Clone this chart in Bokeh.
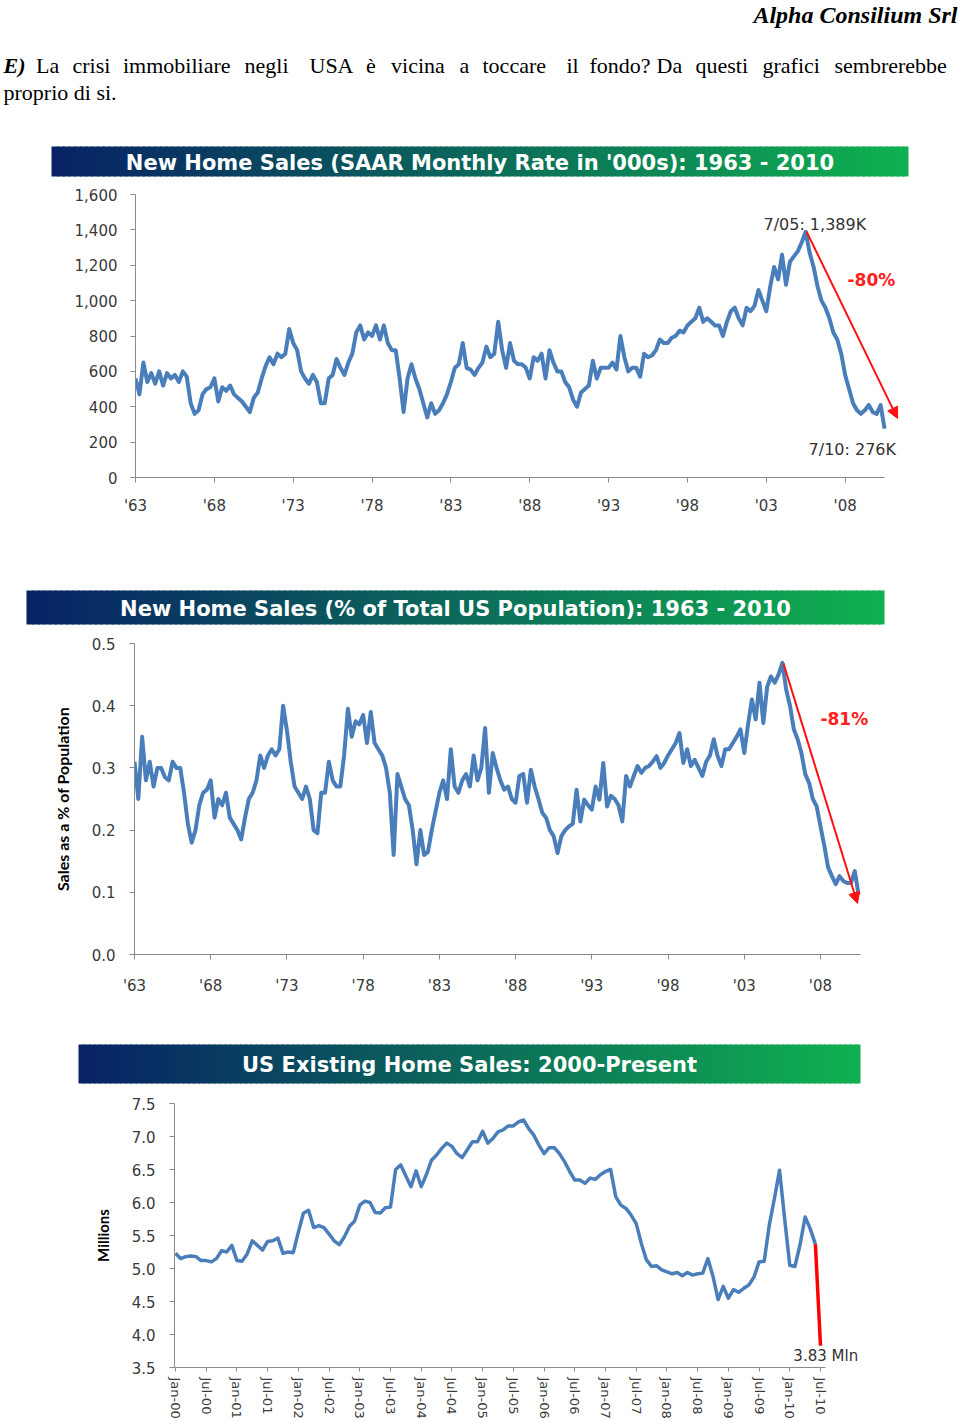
import numpy as np
from bokeh.plotting import figure
from bokeh.models import Range1d, FixedTicker, NumeralTickFormatter, Arrow, NormalHead
from bokeh.layouts import column
from bokeh.core.properties import value
from bokeh.embed import file_html
from bokeh.resources import INLINE

# ---------------- DATA ----------------
# Panel 1: New home sales, SAAR, thousands (quarterly readings 1963Q1 .. 2010Q3)
nhs_start_year = 1963
nhs_thousands = [
    560, 470, 650, 540,   # 1963
    590, 530, 600, 520,   # 1964
    590, 560, 580, 540,   # 1965
    600, 570, 420, 360,   # 1966
    380, 470, 500, 510,   # 1967
    560, 430, 510, 490,   # 1968
    520, 470, 450, 430,   # 1969
    400, 370, 450, 480,   # 1970
    560, 630, 680, 640,   # 1971
    700, 680, 700, 840,   # 1972
    760, 720, 600, 560,   # 1973
    530, 580, 540, 420,   # 1974
    420, 560, 580, 670,   # 1975
    620, 580, 650, 700,   # 1976
    820, 860, 780, 820,   # 1977
    800, 860, 780, 860,   # 1978
    760, 720, 720, 560,   # 1979
    370, 560, 640, 560,   # 1980
    500, 420, 340, 420,   # 1981
    360, 380, 420, 470,   # 1982
    540, 620, 640, 760,   # 1983
    620, 610, 580, 620,   # 1984
    650, 740, 680, 700,   # 1985
    880, 720, 620, 760,   # 1986
    660, 640, 640, 620,   # 1987
    560, 680, 660, 700,   # 1988
    560, 720, 650, 600,   # 1989
    600, 540, 510, 440,   # 1990
    400, 480, 500, 520,   # 1991
    660, 560, 620, 620,   # 1992
    620, 650, 610, 800,   # 1993
    680, 600, 620, 620,   # 1994
    570, 700, 680, 690,   # 1995
    720, 780, 760, 760,   # 1996
    790, 800, 830, 820,   # 1997
    860, 880, 900, 960,   # 1998
    880, 900, 880, 860,   # 1999
    860, 800, 880, 940,   # 2000
    960, 900, 860, 960,   # 2001
    940, 970, 1060, 1000, # 2002
    940, 1080, 1190, 1120,  # 2003
    1260, 1090, 1220, 1250, # 2004
    1280, 1330, 1389, 1270, # 2005
    1190, 1080, 1000, 960,  # 2006
    900, 820, 780, 700,   # 2007
    580, 500, 420, 380,   # 2008
    360, 380, 410, 370,   # 2009
    360, 410, 276,        # 2010
]

# Panel 2: New home sales as % of US population (same quarters)
nhs_pct_population = [
    0.31, 0.25, 0.35, 0.28,
    0.31, 0.27, 0.30, 0.30,
    0.285, 0.28, 0.31, 0.30,
    0.30, 0.26, 0.21, 0.18,
    0.20, 0.24, 0.26, 0.265,
    0.28, 0.22, 0.25, 0.24,
    0.26, 0.22, 0.21, 0.20,
    0.185, 0.22, 0.25, 0.26,
    0.28, 0.32, 0.30, 0.32,
    0.33, 0.32, 0.33, 0.40,
    0.36, 0.31, 0.27, 0.26,
    0.25, 0.27, 0.25, 0.20,
    0.195, 0.26, 0.26, 0.31,
    0.28, 0.27, 0.27, 0.32,
    0.395, 0.35, 0.375, 0.37,
    0.385, 0.34, 0.39, 0.34,
    0.33, 0.32, 0.30, 0.26,
    0.16, 0.29, 0.27, 0.25,
    0.24, 0.20, 0.145, 0.20,
    0.16, 0.165, 0.20, 0.23,
    0.26, 0.28, 0.25, 0.33,
    0.27, 0.26, 0.28, 0.29,
    0.27, 0.32, 0.28, 0.30,
    0.364, 0.26, 0.324, 0.30,
    0.28, 0.265, 0.27, 0.25,
    0.244, 0.287, 0.29, 0.244,
    0.297, 0.27, 0.25, 0.228,
    0.22, 0.20, 0.19, 0.163,
    0.19, 0.20, 0.206, 0.21,
    0.265, 0.214, 0.249, 0.24,
    0.233, 0.27, 0.249, 0.308,
    0.238, 0.255, 0.25, 0.24,
    0.214, 0.287, 0.27, 0.287,
    0.303, 0.292, 0.30, 0.303,
    0.31, 0.319, 0.30, 0.308,
    0.32, 0.33, 0.34, 0.356,
    0.308, 0.33, 0.303, 0.313,
    0.30, 0.287, 0.31, 0.32,
    0.346, 0.319, 0.303, 0.33,
    0.33, 0.34, 0.35, 0.362,
    0.324, 0.37, 0.41, 0.378,
    0.437, 0.372, 0.43, 0.447,
    0.437, 0.45, 0.469, 0.426,
    0.40, 0.362, 0.346, 0.324,
    0.29, 0.276, 0.25, 0.238,
    0.206, 0.175, 0.14, 0.126,
    0.113, 0.126, 0.118, 0.115,
    0.115, 0.134, 0.096,
]

year_ticks = [1963, 1968, 1973, 1978, 1983, 1988, 1993, 1998, 2003, 2008]
year_tick_labels = ["'63", "'68", "'73", "'78", "'83", "'88", "'93", "'98", "'03", "'08"]
p1_y_ticks = [0, 200, 400, 600, 800, 1000, 1200, 1400, 1600]
p2_y_ticks = [0.0, 0.1, 0.2, 0.3, 0.4, 0.5]

# Panel 3: US existing home sales, millions, monthly Jan-00 .. Jun-10, then Jul-10
ehs_millions = [
    5.23, 5.15, 5.18, 5.19, 5.18, 5.12, 5.12, 5.10, 5.15, 5.27, 5.25, 5.35,  # 2000
    5.12, 5.11, 5.22, 5.42, 5.35, 5.28, 5.41, 5.42, 5.46, 5.23, 5.25, 5.24,  # 2001
    5.55, 5.84, 5.88, 5.62, 5.65, 5.62, 5.52, 5.42, 5.36, 5.48, 5.64, 5.72,  # 2002
    5.96, 6.02, 6.00, 5.85, 5.84, 5.92, 5.93, 6.50, 6.57, 6.40, 6.24, 6.48,  # 2003
    6.24, 6.42, 6.64, 6.72, 6.82, 6.90, 6.85, 6.74, 6.68, 6.80, 6.92, 6.92,  # 2004
    7.08, 6.90, 6.97, 7.07, 7.10, 7.16, 7.16, 7.22, 7.25, 7.12, 7.02, 6.87,  # 2005
    6.74, 6.83, 6.83, 6.74, 6.62, 6.47, 6.34, 6.34, 6.29, 6.37, 6.35, 6.42,  # 2006
    6.47, 6.50, 6.09, 5.96, 5.91, 5.81, 5.68, 5.38, 5.13, 5.03, 5.04, 4.98,  # 2007
    4.95, 4.92, 4.94, 4.89, 4.94, 4.90, 4.92, 4.93, 5.15, 4.88, 4.53, 4.73,  # 2008
    4.55, 4.68, 4.64, 4.70, 4.75, 4.87, 5.10, 5.11, 5.66, 6.06, 6.49, 5.75,  # 2009
    5.05, 5.03, 5.36, 5.78, 5.60, 5.37,                                      # 2010
]
ehs_jul10 = 3.83
month_tick_labels = ["Jan-00", "Jul-00", "Jan-01", "Jul-01", "Jan-02", "Jul-02",
                     "Jan-03", "Jul-03", "Jan-04", "Jul-04", "Jan-05", "Jul-05",
                     "Jan-06", "Jul-06", "Jan-07", "Jul-07", "Jan-08", "Jul-08",
                     "Jan-09", "Jul-09", "Jan-10", "Jul-10"]
p3_y_ticks = [3.5, 4.0, 4.5, 5.0, 5.5, 6.0, 6.5, 7.0, 7.5]

# ---------------- STYLE ----------------
W = 960
BLUE = "#4a7ebb"
AXIS = "#8a8a8a"
TICK_TXT = "#3a3a3a"
TICK_FONT = "DejaVu Sans"
SERIF = "Liberation Serif"


def page_fig(top, bottom):
    p = figure(width=W, height=bottom - top, x_range=Range1d(0, W),
               y_range=Range1d(bottom, top), output_backend="svg",
               toolbar_location=None, x_axis_type=None, y_axis_type=None,
               min_border=0, frame_align=False)
    p.outline_line_color = None
    p.background_fill_color = "white"
    p.border_fill_color = "white"
    return p


def banner_fig(top, bottom, x0, x1, by0, by1, title, size="21px"):
    p = page_fig(top, bottom)
    n = 150
    edges = np.linspace(x0, x1, n + 1)
    c0 = np.array([8, 34, 102])
    c1 = np.array([16, 178, 80])
    t = (np.arange(n) + 0.5) / n
    cols = ["#%02x%02x%02x" % tuple(int(v) for v in (c0 + (c1 - c0) * tt)) for tt in t]
    rights = np.minimum(edges[1:] + 1.5, x1)
    p.quad(left=edges[:-1], right=rights, top=by0, bottom=by1,
           fill_color=cols, line_color=None)
    p.text(x=[(x0 + x1) / 2], y=[(by0 + by1) / 2 + 1], text=[title],
           text_align="center", text_baseline="middle", text_color="white",
           text_font=value("DejaVu Sans"), text_font_style="bold",
           text_font_size=size)
    return p


def style_axes(p):
    p.grid.visible = False
    p.outline_line_color = None
    for ax in p.axis:
        ax.axis_line_color = AXIS
        ax.major_tick_line_color = AXIS
        ax.minor_tick_line_color = None
        ax.major_tick_in = 0
        ax.major_tick_out = 5
        ax.major_label_text_font = TICK_FONT
        ax.major_label_text_font_size = "15px"
        ax.major_label_text_color = TICK_TXT


# ---------------- HEADER ----------------
hdr = page_fig(0, 137)
hdr.text(x=[957], y=[14], text=["Alpha Consilium Srl"], text_align="right",
         text_baseline="alphabetic", text_font=value(SERIF),
         text_font_style="bold italic", text_font_size="24px", text_color="black")
line1_words = ["La", "crisi", "immobiliare", "negli", "USA", "è", "vicina", "a",
               "toccare", "il", "fondo?", "Da", "questi", "grafici", "sembrerebbe"]
line1_x = [35.5, 72, 122.5, 244, 309, 365.5, 390.6, 459, 482, 566, 589, 656,
           695, 762, 834]
hdr.text(x=[3], y=[65], text=["E)"], text_baseline="alphabetic",
         text_font=value(SERIF), text_font_style="bold italic",
         text_font_size="22px", text_color="black")
hdr.text(x=line1_x, y=[65] * len(line1_words), text=line1_words,
         text_baseline="alphabetic", text_font=value(SERIF),
         text_font_size="22px", text_color="black")
hdr.text(x=[3], y=[92], text=["proprio di si."], text_baseline="alphabetic",
         text_font=value(SERIF), text_font_size="22px", text_color="black")

# ---------------- PANEL 1 ----------------
b1 = banner_fig(137, 182, 51, 908, 146, 176,
                "New Home Sales (SAAR Monthly Rate in '000s): 1963 - 2010")

q_years = [nhs_start_year + 0.25 * i for i in range(len(nhs_thousands))]
p1 = figure(width=W, height=358, x_range=Range1d(1963, 1963 + 770 / 15.77),
            y_range=Range1d(0, 1600), output_backend="svg", toolbar_location=None,
            min_border_left=135, min_border_right=55, min_border_top=12,
            min_border_bottom=63, frame_align=False)
p1.line(q_years, nhs_thousands, line_color=BLUE, line_width=4, line_join="round")
style_axes(p1)
p1.xaxis.ticker = FixedTicker(ticks=year_ticks)
p1.xaxis.major_label_overrides = dict(zip(year_ticks, year_tick_labels))
p1.xaxis.bounds = (1963, 2010.5)
p1.xaxis.major_label_standoff = 14
p1.yaxis.ticker = FixedTicker(ticks=p1_y_ticks)
p1.yaxis.formatter = NumeralTickFormatter(format="0,0")
p1.yaxis.bounds = (0, 1600)
p1.yaxis.major_label_standoff = 13
p1.text(x=[2002.82], y=[1430], text=["7/05: 1,389K"], text_baseline="middle",
        text_font=value(TICK_FONT), text_font_size="16px", text_color="#333333")
p1.text(x=[2005.68], y=[158], text=["7/10: 276K"], text_baseline="middle",
        text_font=value(TICK_FONT), text_font_size="16px", text_color="#333333")
p1.text(x=[2008.15], y=[1119], text=["-80%"], text_baseline="middle",
        text_font=value(TICK_FONT), text_font_style="bold", text_font_size="17px",
        text_color="#ff2020")
p1.add_layout(Arrow(end=NormalHead(size=11, fill_color="#ff1010", line_color="#ff1010"),
                    x_start=2005.55, y_start=1391, x_end=2011.32, y_end=334,
                    line_color="#ff1010", line_width=2))

# ---------------- PANEL 2 ----------------
b2 = banner_fig(540, 630, 26, 884, 590, 624,
                "New Home Sales (% of Total US Population): 1963 - 2010")
p2 = figure(width=W, height=370, x_range=Range1d(1963, 1963 + 741 / 15.244),
            y_range=Range1d(0, 0.5), output_backend="svg", toolbar_location=None,
            min_border_left=134, min_border_right=85, min_border_top=13,
            min_border_bottom=46, frame_align=False)
p2.line(q_years, nhs_pct_population, line_color=BLUE, line_width=4, line_join="round")
style_axes(p2)
p2.xaxis.ticker = FixedTicker(ticks=year_ticks)
p2.xaxis.major_label_overrides = dict(zip(year_ticks, year_tick_labels))
p2.xaxis.bounds = (1963, 2010.6)
p2.xaxis.major_label_standoff = 17
p2.yaxis.ticker = FixedTicker(ticks=p2_y_ticks)
p2.yaxis.formatter = NumeralTickFormatter(format="0.0")
p2.yaxis.bounds = (0, 0.5)
p2.yaxis.major_label_standoff = 14
p2.yaxis.axis_label = "Sales as a % of Population"
p2.yaxis.axis_label_text_font = "Lato"
p2.yaxis.axis_label_text_font_style = "bold"
p2.yaxis.axis_label_text_font_size = "16px"
p2.yaxis.axis_label_text_color = "black"
p2.yaxis.axis_label_standoff = 17
p2.text(x=[2008.0], y=[0.379], text=["-81%"], text_baseline="middle",
        text_font=value(TICK_FONT), text_font_style="bold", text_font_size="17px",
        text_color="#ff2020")
p2.add_layout(Arrow(end=NormalHead(size=11, fill_color="#ff1010", line_color="#ff1010"),
                    x_start=2005.57, y_start=0.468, x_end=2010.43, y_end=0.082,
                    line_color="#ff1010", line_width=2))

# ---------------- PANEL 3 ----------------
b3 = banner_fig(1000, 1090, 78, 860, 1044, 1083, "US Existing Home Sales: 2000-Present")
months = list(range(len(ehs_millions)))
px_per_month = 645 / 126
p3 = figure(width=W, height=331,
            x_range=Range1d(-1 / px_per_month, 691 / px_per_month),
            y_range=Range1d(3.5, 7.5), output_backend="svg", toolbar_location=None,
            min_border_left=174, min_border_right=94, min_border_top=13,
            min_border_bottom=53, frame_align=False)
p3.line(months, ehs_millions, line_color=BLUE, line_width=3.5, line_join="round")
p3.line([months[-1], months[-1] + 1], [ehs_millions[-1], ehs_jul10],
        line_color="#ff0000", line_width=3.5)
style_axes(p3)
m_ticks = [6 * i for i in range(len(month_tick_labels))]
p3.xaxis.ticker = FixedTicker(ticks=m_ticks)
p3.xaxis.major_label_overrides = dict(zip(m_ticks, month_tick_labels))
p3.xaxis.major_label_orientation = "vertical"
p3.xaxis.major_label_text_font_size = "13px"
p3.xaxis.major_tick_out = 4
p3.xaxis.major_label_standoff = 6
p3.xaxis.bounds = (-1 / px_per_month, 127)
p3.yaxis.ticker = FixedTicker(ticks=p3_y_ticks)
p3.yaxis.formatter = NumeralTickFormatter(format="0.0")
p3.yaxis.bounds = (3.5, 7.5)
p3.yaxis.major_label_standoff = 14
p3.yaxis.axis_label = "Millions"
p3.yaxis.axis_label_text_font = "Lato"
p3.yaxis.axis_label_text_font_style = "bold"
p3.yaxis.axis_label_text_font_size = "15px"
p3.yaxis.axis_label_text_color = "black"
p3.yaxis.axis_label_standoff = 17
p3.text(x=[120.7], y=[3.68], text=["3.83 Mln"], text_baseline="middle",
        text_font=value(TICK_FONT), text_font_size="15px", text_color="#333333")

layout = column(hdr, b1, p1, b2, p2, b3, p3, spacing=0)
open("out.html", "w").write(file_html(layout, INLINE))
